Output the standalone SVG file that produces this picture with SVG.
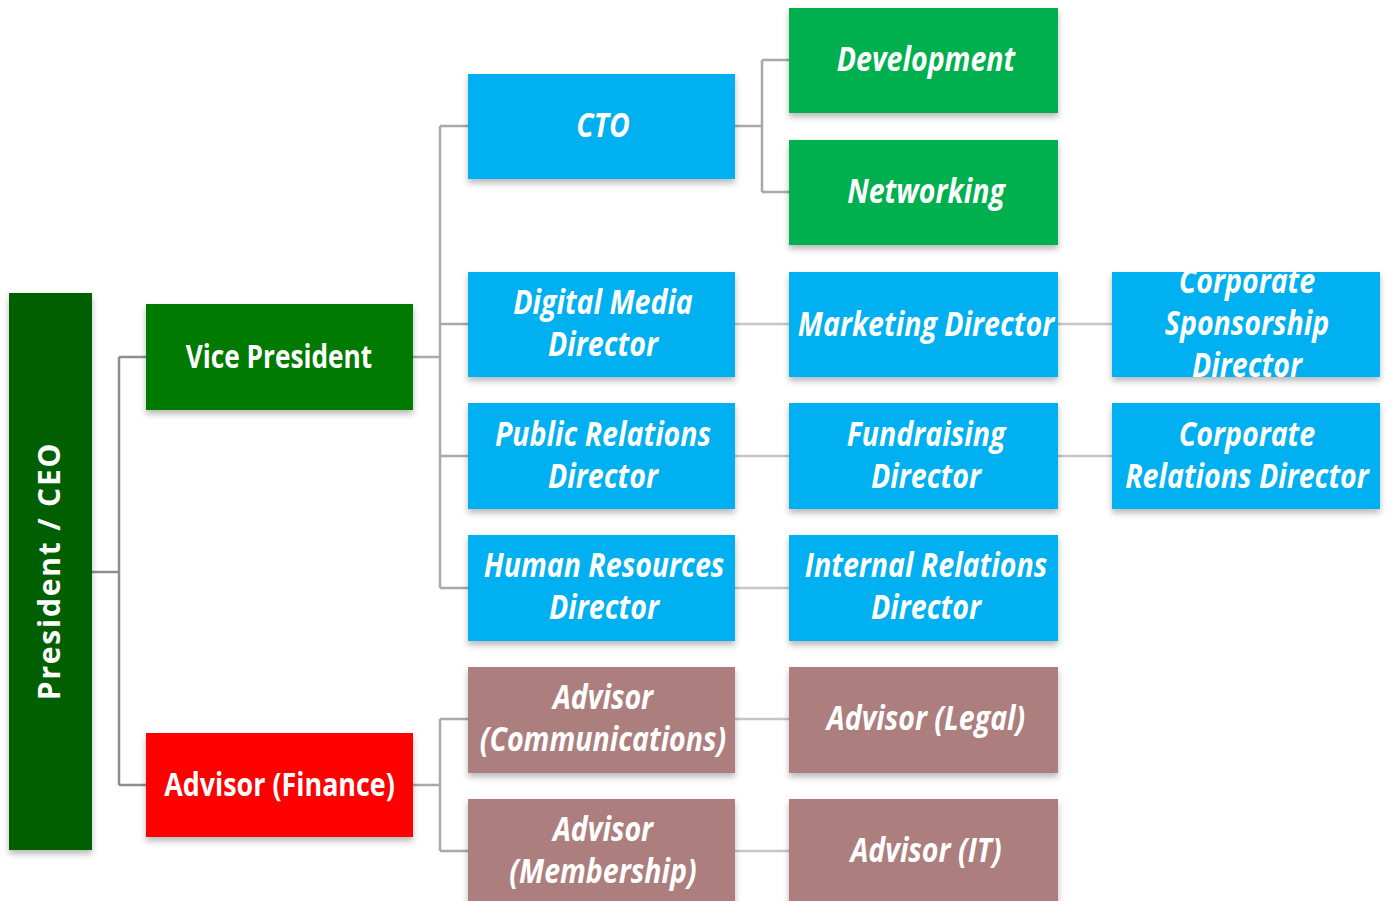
<svg xmlns="http://www.w3.org/2000/svg" width="1391" height="901" viewBox="0 0 1391 901">
<defs>
<filter id="sh" x="-10%" y="-10%" width="120%" height="130%">
<feDropShadow dx="0" dy="4" stdDeviation="3" flood-color="#000" flood-opacity="0.28"/>
</filter>
<style>
.box{filter:url(#sh);}
.t{font-family:"Open Sans","Liberation Sans",sans-serif;font-weight:700;font-style:italic;font-size:34px;fill:#fff;text-anchor:middle;}
.tb{font-family:"Open Sans","Liberation Sans",sans-serif;font-weight:700;font-size:32px;fill:#fff;text-anchor:middle;}
.c1{fill:none;stroke:#8b8e96;stroke-width:2.5;}
.c2{fill:none;stroke:#a9a9ad;stroke-width:2.5;}
.c3{fill:none;stroke:#c6c6c6;stroke-width:2.5;}
.blue{fill:#00b0f0;}
.lg{fill:#00b050;}
.br{fill:#ad7e7e;}
</style>
</defs>
<rect width="1391" height="901" fill="#fff"/>
<g id="connectors">
<path class="c1" d="M92,572H119M119,357V785M119,357H146M119,785H146"/>
<path class="c2" d="M413,357H440M440,126V588M440,126H468M440,324H468M440,456H468M440,588H468"/>
<path class="c2" d="M413,785H440M440,719V851M440,719H468M440,851H468"/>
<path class="c2" d="M735,126H762M762,60V192M762,60H789M762,192H789"/>
<path class="c3" d="M735,324H789M1058,324H1112M735,456H789M1058,456H1112M735,588H789M735,719H789M735,851H789"/>
</g>
<g id="ceo">
<rect class="box" x="9" y="293" width="83" height="557" fill="#005f00"/>
<text transform="translate(60,571) rotate(-90)" x="0" y="0" style="font-family:'Open Sans','Liberation Sans',sans-serif;font-weight:700;font-size:30px;fill:#fff;text-anchor:middle;letter-spacing:1.8px">President / CEO</text>
</g>
<g id="vp">
<rect class="box" x="146" y="304" width="267" height="106" fill="#017a01"/>
<text class="tb" transform="translate(279,0) scale(0.82,1)" x="0" y="368">Vice President</text>
</g>
<g id="finance">
<rect class="box" x="146" y="733" width="267" height="104" fill="#ff0000"/>
<text class="tb" transform="translate(279.5,0) scale(0.84,1)" x="0" y="796">Advisor (Finance)</text>
</g>
<g id="cto">
<rect class="box blue" x="468" y="74" width="267" height="105"/>
<text class="t" transform="translate(603,0) scale(0.84,1)" x="0" y="137">CTO</text>
</g>
<g id="development">
<rect class="box lg" x="789" y="8" width="269" height="105"/>
<text class="t" transform="translate(926,0) scale(0.84,1)" x="0" y="71">Development</text>
</g>
<g id="networking">
<rect class="box lg" x="789" y="140" width="269" height="105"/>
<text class="t" transform="translate(926,0) scale(0.84,1)" x="0" y="203">Networking</text>
</g>
<g id="digital-media">
<rect class="box blue" x="468" y="272" width="267" height="105"/>
<text class="t" transform="translate(603,0) scale(0.84,1)" x="0" y="314">Digital Media</text>
<text class="t" transform="translate(603,0) scale(0.84,1)" x="0" y="356">Director</text>
</g>
<g id="marketing">
<rect class="box blue" x="789" y="272" width="269" height="105"/>
<text class="t" transform="translate(926,0) scale(0.84,1)" x="0" y="336">Marketing Director</text>
</g>
<g id="corp-sponsorship">
<rect class="box blue" x="1112" y="272" width="268" height="105"/>
<text class="t" transform="translate(1247,0) scale(0.84,1)" x="0" y="293">Corporate</text>
<text class="t" transform="translate(1247,0) scale(0.84,1)" x="0" y="335">Sponsorship</text>
<text class="t" transform="translate(1247,0) scale(0.84,1)" x="0" y="377">Director</text>
</g>
<g id="public-relations">
<rect class="box blue" x="468" y="403" width="267" height="106"/>
<text class="t" transform="translate(603,0) scale(0.84,1)" x="0" y="446">Public Relations</text>
<text class="t" transform="translate(603,0) scale(0.84,1)" x="0" y="488">Director</text>
</g>
<g id="fundraising">
<rect class="box blue" x="789" y="403" width="269" height="106"/>
<text class="t" transform="translate(926,0) scale(0.84,1)" x="0" y="446">Fundraising</text>
<text class="t" transform="translate(926,0) scale(0.84,1)" x="0" y="488">Director</text>
</g>
<g id="corp-relations">
<rect class="box blue" x="1112" y="403" width="268" height="106"/>
<text class="t" transform="translate(1247,0) scale(0.84,1)" x="0" y="446">Corporate</text>
<text class="t" transform="translate(1247,0) scale(0.84,1)" x="0" y="488">Relations Director</text>
</g>
<g id="human-resources">
<rect class="box blue" x="468" y="535" width="267" height="106"/>
<text class="t" transform="translate(604,0) scale(0.84,1)" x="0" y="577">Human Resources</text>
<text class="t" transform="translate(604,0) scale(0.84,1)" x="0" y="619">Director</text>
</g>
<g id="internal-relations">
<rect class="box blue" x="789" y="535" width="269" height="106"/>
<text class="t" transform="translate(926,0) scale(0.84,1)" x="0" y="577">Internal Relations</text>
<text class="t" transform="translate(926,0) scale(0.84,1)" x="0" y="619">Director</text>
</g>
<g id="advisor-communications">
<rect class="box br" x="468" y="667" width="267" height="106"/>
<text class="t" transform="translate(603,0) scale(0.84,1)" x="0" y="709">Advisor</text>
<text class="t" transform="translate(603,0) scale(0.84,1)" x="0" y="751">(Communications)</text>
</g>
<g id="advisor-legal">
<rect class="box br" x="789" y="667" width="269" height="106"/>
<text class="t" transform="translate(926,0) scale(0.84,1)" x="0" y="730">Advisor (Legal)</text>
</g>
<g id="advisor-membership">
<rect class="box br" x="468" y="799" width="267" height="110"/>
<text class="t" transform="translate(603,0) scale(0.84,1)" x="0" y="841">Advisor</text>
<text class="t" transform="translate(603,0) scale(0.84,1)" x="0" y="883">(Membership)</text>
</g>
<g id="advisor-it">
<rect class="box br" x="789" y="799" width="269" height="110"/>
<text class="t" transform="translate(926,0) scale(0.84,1)" x="0" y="862">Advisor (IT)</text>
</g>
</svg>
